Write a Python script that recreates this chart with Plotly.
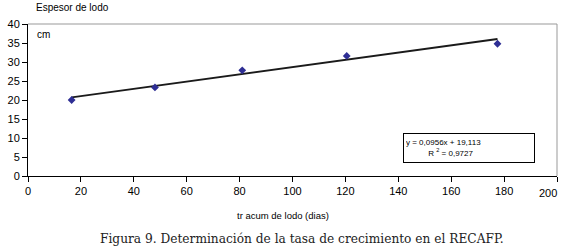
import plotly.graph_objects as go

dias = [16.5, 48, 81, 120.5, 177.5]
espesor = [20.0, 23.3, 27.8, 31.6, 34.8]
slope = 0.0956
intercept = 19.113
r2 = "0,9727"
x_ticks = [0, 20, 40, 60, 80, 100, 120, 140, 160, 180, 200]
x_labels = [str(v) if v < 200 else "" for v in x_ticks]
y_ticks = [0, 5, 10, 15, 20, 25, 30, 35, 40]

fit_x = [min(dias), max(dias)]
fit_y = [slope * v + intercept for v in fit_x]

fig = go.Figure()
fig.add_trace(go.Scatter(x=fit_x, y=fit_y, mode="lines",
                         line=dict(color="#1a1a1a", width=2), hoverinfo="skip"))
fig.add_trace(go.Scatter(x=dias, y=espesor, mode="markers",
                         marker=dict(symbol="diamond", size=6, color="#2e2e94")))

font = dict(family="Liberation Sans, Arial, sans-serif", size=11, color="black")

fig.update_layout(
    width=563, height=251,
    margin=dict(l=28, r=6, t=24, b=75),
    paper_bgcolor="white", plot_bgcolor="white",
    showlegend=False,
    font=font,
    xaxis=dict(range=[0, 200], tickvals=x_ticks, ticktext=x_labels, ticks="outside", ticklen=5,
               tickcolor="black", showline=True, linecolor="black", linewidth=1,
               showgrid=False, zeroline=False, mirror=False,
               tickfont=dict(size=11)),
    yaxis=dict(range=[0, 40], tickvals=y_ticks, ticks="outside", ticklen=5,
               tickcolor="black", showline=True, linecolor="black", linewidth=1,
               showgrid=False, zeroline=False, tickfont=dict(size=11)),
    shapes=[
        dict(type="line", xref="paper", yref="paper", x0=0, x1=1, y0=1, y1=1,
             line=dict(color="#999999", width=1)),
        dict(type="line", xref="paper", yref="paper", x0=1, x1=1, y0=0, y1=1,
             line=dict(color="#999999", width=1)),
    ],
    annotations=[
        dict(text="200", xref="x", yref="paper", x=200, y=0, xshift=-9, yshift=-9,
             xanchor="center", yanchor="top", showarrow=False, font=dict(size=11)),
        dict(text="Espesor de lodo", xref="paper", yref="paper", x=0, y=1.06,
             xshift=6, xanchor="left", yanchor="bottom", showarrow=False,
             font=dict(size=10)),
        dict(text="cm", xref="paper", yref="paper", x=0.013, y=0.93,
             xanchor="left", yanchor="middle", showarrow=False, font=dict(size=10)),
        dict(text="tr acum de lodo (dias)", xref="paper", yref="paper", x=0.482, y=-0.26,
             xanchor="center", yanchor="middle", showarrow=False, font=dict(size=9.5)),
        dict(text="y = 0,0956x + 19,113<br>          R <sup>2</sup> = " + r2,
             xref="paper", yref="paper", x=0.708, y=0.285,
             xanchor="left", yanchor="top", align="left", showarrow=False,
             font=dict(size=8), bordercolor="black", borderwidth=1, borderpad=2,
             bgcolor="white", width=126, height=24),
        dict(text="Figura 9. Determinación de la tasa de crecimiento en el RECAFP.",
             xref="paper", yref="paper", x=0.518, y=0, yshift=-63,
             xanchor="center", yanchor="middle", showarrow=False,
             font=dict(family="DejaVu Serif, serif", size=12.2, color="#222222")),
    ],
)

fig.write_html("out.html", config={"displayModeBar": False},
               post_script="document.body.style.margin='0';")
